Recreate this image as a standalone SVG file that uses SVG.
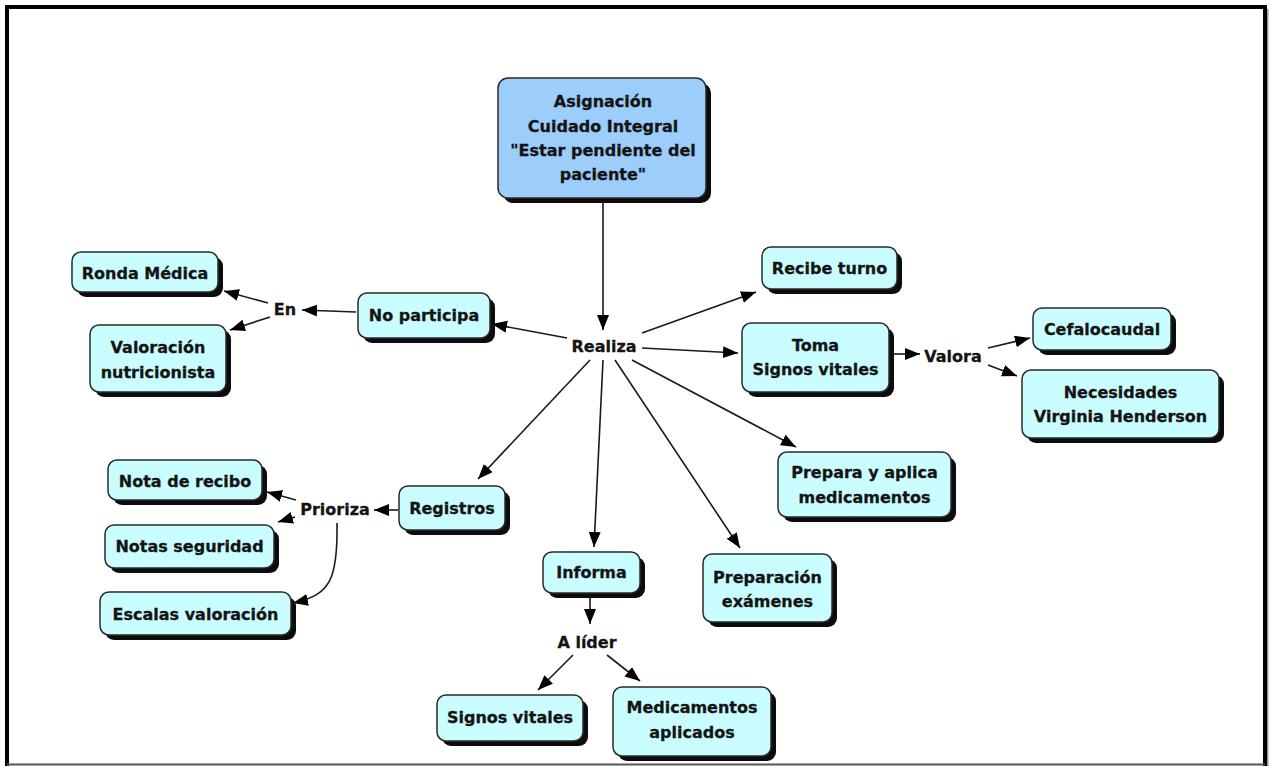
<svg xmlns="http://www.w3.org/2000/svg" width="1271" height="767" viewBox="0 0 1271 767">
  <style>
    .box { fill: #c9fdff; stroke: #2a2a2a; stroke-width: 1.5; }
    .root { fill: #9ccdfb; stroke: #2a2a2a; stroke-width: 1.5; }
    .shadow { fill: #0c0c0c; }
    text { font-family: "DejaVu Sans", Verdana, sans-serif; font-size: 16px; font-weight: bold; fill: #141414; stroke: #141414; stroke-width: 0.3; text-anchor: middle; }
    .link { fill: none; stroke: #1a1a1a; stroke-width: 1.6; marker-end: url(#arrow); }
  </style>
  <defs>
    <marker id="arrow" markerUnits="userSpaceOnUse" markerWidth="16" markerHeight="13" refX="15" refY="6" orient="auto">
      <path d="M0,0 L15,6 L0,12 z" fill="#000"/>
    </marker>
  </defs>

  <rect width="1271" height="767" fill="#ffffff"/>
  <!-- page frame -->
  <path d="M1267,9 V766" stroke="#9a9a9a" stroke-width="3" fill="none"/>
  <path d="M7,766 V7 H1265 V766" stroke="#000" stroke-width="4" fill="none"/>
  <path d="M7,764.5 H1265" stroke="#555" stroke-width="2" fill="none"/>

  <!-- connectors -->
  <g id="connectors">
    <line class="link" x1="603" y1="203" x2="603" y2="330"/>
    <line class="link" x1="567" y1="338" x2="492" y2="324"/>
    <line class="link" x1="356" y1="312" x2="302" y2="310"/>
    <line class="link" x1="268" y1="303" x2="224" y2="291"/>
    <line class="link" x1="270" y1="317" x2="230" y2="330"/>
    <line class="link" x1="642" y1="333" x2="756" y2="292"/>
    <line class="link" x1="642" y1="348" x2="738" y2="353"/>
    <line class="link" x1="893" y1="354" x2="920" y2="354"/>
    <line class="link" x1="988" y1="348" x2="1030" y2="338"/>
    <line class="link" x1="988" y1="365" x2="1017" y2="376"/>
    <line class="link" x1="632" y1="360" x2="796" y2="447"/>
    <line class="link" x1="615" y1="360" x2="740" y2="548"/>
    <line class="link" x1="603" y1="360" x2="594" y2="547"/>
    <line class="link" x1="590" y1="360" x2="478" y2="479"/>
    <line class="link" x1="398" y1="510" x2="374" y2="510"/>
    <line class="link" x1="296" y1="500" x2="267" y2="492"/>
    <line class="link" x1="295" y1="517" x2="278" y2="522"/>
    <path class="link" d="M337,523 C338,580 330,595 293,603"/>
    <line class="link" x1="590" y1="596" x2="590" y2="624"/>
    <line class="link" x1="573" y1="655" x2="538" y2="690"/>
    <line class="link" x1="607" y1="655" x2="640" y2="681"/>
  </g>

  <!-- linking phrases -->
  <g id="lbl-realiza"><text x="604" y="352">Realiza</text></g>
  <g id="lbl-en"><text x="285" y="315">En</text></g>
  <g id="lbl-valora"><text x="953" y="362">Valora</text></g>
  <g id="lbl-prioriza"><text x="335" y="515">Prioriza</text></g>
  <g id="lbl-alider"><text x="587" y="648">A líder</text></g>

  <!-- concepts -->
  <g id="n-asignacion">
    <rect class="shadow" x="503" y="83" width="208" height="120" rx="10"/>
    <rect class="root" x="498" y="78" width="208" height="120" rx="10"/>
    <text x="603" y="107">Asignación</text>
    <text x="603" y="131.5">Cuidado Integral</text>
    <text x="603" y="156">"Estar pendiente del</text>
    <text x="603" y="180">paciente"</text>
  </g>

  <g id="n-ronda">
    <rect class="shadow" x="77" y="257" width="146" height="40" rx="9"/>
    <rect class="box" x="72" y="252" width="146" height="40" rx="9"/>
    <text x="145" y="279">Ronda Médica</text>
  </g>

  <g id="n-valoracion">
    <rect class="shadow" x="95" y="330" width="136" height="67" rx="9"/>
    <rect class="box" x="90" y="325" width="136" height="67" rx="9"/>
    <text x="158" y="353">Valoración</text>
    <text x="158" y="377.5">nutricionista</text>
  </g>

  <g id="n-noparticipa">
    <rect class="shadow" x="363" y="298" width="132" height="45" rx="9"/>
    <rect class="box" x="358" y="293" width="132" height="45" rx="9"/>
    <text x="424" y="321">No participa</text>
  </g>

  <g id="n-recibe">
    <rect class="shadow" x="767" y="252" width="135" height="42" rx="9"/>
    <rect class="box" x="762" y="247" width="135" height="42" rx="9"/>
    <text x="829.5" y="274">Recibe turno</text>
  </g>

  <g id="n-toma">
    <rect class="shadow" x="747" y="328" width="147" height="69" rx="9"/>
    <rect class="box" x="742" y="323" width="147" height="69" rx="9"/>
    <text x="815.5" y="350.5">Toma</text>
    <text x="815.5" y="375">Signos vitales</text>
  </g>

  <g id="n-cefalocaudal">
    <rect class="shadow" x="1038" y="313" width="138" height="42" rx="9"/>
    <rect class="box" x="1033" y="308" width="138" height="42" rx="9"/>
    <text x="1102" y="335">Cefalocaudal</text>
  </g>

  <g id="n-necesidades">
    <rect class="shadow" x="1027" y="375" width="197" height="68" rx="9"/>
    <rect class="box" x="1022" y="370" width="197" height="68" rx="9"/>
    <text x="1120.5" y="397.5">Necesidades</text>
    <text x="1120.5" y="422">Virginia Henderson</text>
  </g>

  <g id="n-prepara">
    <rect class="shadow" x="783" y="457" width="173" height="65" rx="9"/>
    <rect class="box" x="778" y="452" width="173" height="65" rx="9"/>
    <text x="864.5" y="478">Prepara y aplica</text>
    <text x="864.5" y="502.5">medicamentos</text>
  </g>

  <g id="n-preparacion">
    <rect class="shadow" x="708" y="559" width="129" height="68" rx="9"/>
    <rect class="box" x="703" y="554" width="129" height="68" rx="9"/>
    <text x="767.5" y="582.5">Preparación</text>
    <text x="767.5" y="607">exámenes</text>
  </g>

  <g id="n-registros">
    <rect class="shadow" x="404" y="491" width="106" height="44" rx="9"/>
    <rect class="box" x="399" y="486" width="106" height="44" rx="9"/>
    <text x="452" y="514">Registros</text>
  </g>

  <g id="n-notarecibo">
    <rect class="shadow" x="113" y="465" width="154" height="40" rx="9"/>
    <rect class="box" x="108" y="460" width="154" height="40" rx="9"/>
    <text x="185" y="487">Nota de recibo</text>
  </g>

  <g id="n-notasseguridad">
    <rect class="shadow" x="110" y="530" width="169" height="43" rx="9"/>
    <rect class="box" x="105" y="525" width="169" height="43" rx="9"/>
    <text x="189.5" y="552">Notas seguridad</text>
  </g>

  <g id="n-escalas">
    <rect class="shadow" x="105" y="597" width="191" height="43" rx="9"/>
    <rect class="box" x="100" y="592" width="191" height="43" rx="9"/>
    <text x="195.5" y="620">Escalas valoración</text>
  </g>

  <g id="n-informa">
    <rect class="shadow" x="548" y="557" width="97" height="41" rx="9"/>
    <rect class="box" x="543" y="552" width="97" height="41" rx="9"/>
    <text x="591.5" y="578">Informa</text>
  </g>

  <g id="n-signos">
    <rect class="shadow" x="442" y="700" width="146" height="46" rx="9"/>
    <rect class="box" x="437" y="695" width="146" height="46" rx="9"/>
    <text x="510" y="723">Signos vitales</text>
  </g>

  <g id="n-medicamentos">
    <rect class="shadow" x="618" y="692" width="158" height="69" rx="9"/>
    <rect class="box" x="613" y="687" width="158" height="69" rx="9"/>
    <text x="692" y="713">Medicamentos</text>
    <text x="692" y="738">aplicados</text>
  </g>
</svg>
